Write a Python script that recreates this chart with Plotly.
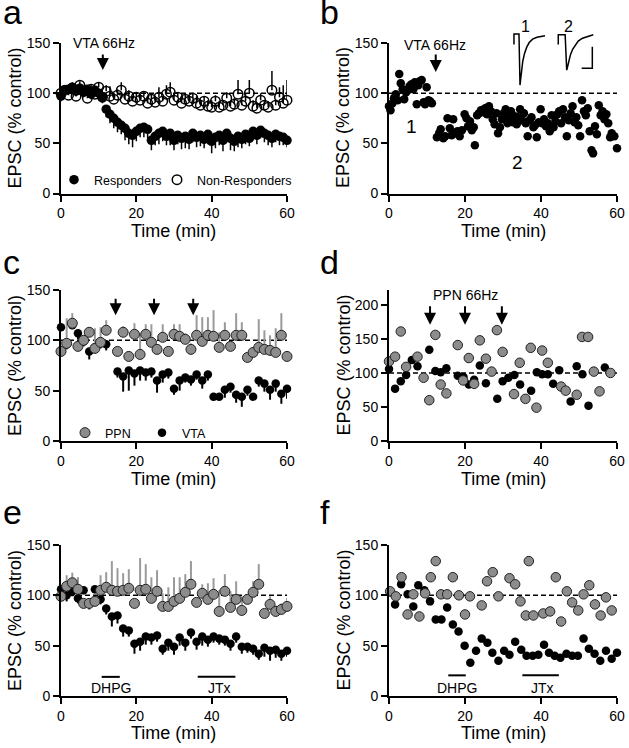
import plotly.graph_objects as go

FONT = "Arial, 'Liberation Sans', Helvetica, sans-serif"
W, H = 629, 748
GRAY = '#8c8c8c'
GRAY_ERR = '#9a9a9a'

# ---------------- Panel a ----------------
A_TIME = list(range(0, 61))
A_RESP = [97, 103, 104, 106, 102, 105, 101, 104, 99, 103, 100, 96,
          84, 79, 75, 71, 68, 65, 60, 58, 62, 65,
          66, 64, 53, 57, 60, 62, 57, 60, 53, 58,
          55, 57, 54, 60, 56, 58, 54, 59, 52, 56,
          58, 53, 60, 55, 52, 57, 54, 59, 55, 62,
          58, 63, 60, 58, 55, 59, 57, 56, 53]
A_RESP_ERR = [5, 6, 5, 6, 5, 6, 5, 6, 5, 6, 5, 6,
              8, 9, 10, 10, 9, 12, 11, 12, 10, 9,
              10, 9, 10, 9, 11, 10, 9, 12, 10, 9,
              11, 12, 10, 9, 10, 11, 9, 10, 12, 11,
              10, 11, 9, 12, 10, 11, 9, 10, 8, 9,
              9, 8, 9, 10, 9, 8, 9, 8, 7]
A_NONRESP = [100, 103, 98, 105, 97, 108, 102, 95, 104, 99, 106, 96,
             102, 97, 94, 98, 103, 94, 97, 92, 96, 93,
             97, 90, 94, 91, 96, 92, 99, 101, 93, 96,
             90, 94, 92, 95, 90, 88, 92, 87, 86, 92,
             86, 88, 95, 87, 89, 99, 88, 92, 100, 87,
             85, 93, 88, 86, 103, 88, 96, 90, 93]
A_NONRESP_ERR = [4, 5, 4, 6, 5, 4, 5, 6, 5, 4, 5, 4,
                 6, 10, 5, 6, 8, 5, 6, 5, 4, 6,
                 5, 6, 5, 6, 10, 5, 9, 10, 6, 5,
                 6, 5, 6, 5, 7, 6, 5, 6, 7, 6,
                 6, 5, 6, 5, 6, 14, 6, 7, 13, 6,
                 6, 7, 5, 6, 19, 6, 10, 18, 20]

# ---------------- Panel b ----------------
B_TIME = [0.0, 0.4, 0.9, 1.3, 1.8, 2.3, 2.7, 3.1, 3.6, 4.0, 4.5, 4.9, 5.4, 5.9, 6.4, 6.8,
          7.3, 7.7, 8.1, 8.6, 9.1, 9.5, 9.9, 10.4, 10.8, 11.3,
          12.6, 13.2, 13.6, 14.3, 14.8, 15.4, 16.0, 16.5, 16.9, 17.4, 18.0, 18.6, 19.2, 19.9,
          20.4, 20.8, 21.3, 21.8, 22.3, 22.6, 23.2, 23.7, 24.2, 24.8, 25.3, 25.8, 26.3, 26.8,
          27.3, 27.8, 28.3, 28.7, 29.2, 29.7, 30.2, 30.7, 31.2, 31.6, 32.1, 32.6, 33.1, 33.6,
          34.0, 34.5, 35.0, 35.5, 36.0, 36.5, 37.0, 37.5, 38.0, 38.4, 38.9, 39.4, 39.9, 40.3,
          40.8, 41.3, 41.8, 42.3, 42.8, 43.3, 43.8, 44.3, 44.8, 45.3, 45.8, 46.3, 46.8, 47.3,
          47.8, 48.3, 48.8, 49.3, 49.8, 50.3, 50.8, 51.3, 51.8, 52.3, 52.8, 53.3, 53.7, 54.2,
          54.7, 55.2, 55.7, 56.2, 56.7, 57.2, 57.7, 58.2, 58.6, 59.3, 60.0]
B_EPSC = [87, 83, 90, 95, 99, 93, 119, 110, 104, 94, 101, 103, 107, 109, 104, 111,
          89, 108, 112, 113, 91, 89, 106, 93, 92, 90,
          56, 60, 64, 55, 57, 75, 65, 58, 74, 60, 62, 57, 63, 79,
          75, 67, 72, 63, 66, 48, 78, 80, 83, 81, 85, 79, 87, 82,
          74, 69, 80, 60, 66, 74, 80, 84, 70, 76, 82, 71, 77, 69,
          76, 84, 73, 80, 70, 57, 73, 76, 66, 68, 56, 71, 84, 70,
          74, 67, 70, 62, 78, 66, 72, 79, 82, 70, 84, 76, 57, 73,
          80, 87, 71, 76, 68, 57, 93, 82, 78, 85, 62, 43, 40, 67,
          59, 88, 78, 82, 74, 79, 70, 56, 60, 57, 45]

# inset EPSC traces (panel b)
INSET1_X = [2.3, 2.3, 8.1, 8.7, 9.3, 10.0, 11.0, 12.5, 14.5, 17, 20, 24, 29, 34, 38.4]
INSET1_Y = [-0.2, 0.017, 0.017, -0.55, -1.04, -0.93, -0.74, -0.55, -0.39, -0.26, -0.16, -0.09, -0.05, -0.03, -0.02]
INSET2_X = [53.8, 53.8, 61.8, 62.6, 63.6, 64.6, 66.0, 68.0, 70.5, 73.5, 77, 82, 88, 94.5]
INSET2_Y = [-0.2, 0.0, 0.0, -0.4, -0.73, -0.66, -0.53, -0.41, -0.3, -0.21, -0.13, -0.07, -0.03, 0.0]
SCALE_X = [81.0, 93.4, 93.4]
SCALE_Y = [-0.693, -0.693, -0.245]

# ---------------- Panel c ----------------
C_PPN_TIME = [0, 1.5, 3, 4.5, 6, 7.5, 9, 10.5, 12,
              15, 16.5, 18, 19.5, 21, 22.5, 24, 25.5, 27, 28.5, 30, 31.5, 33, 34.5, 36, 37.5,
              39, 40.5, 42, 43.5, 45, 46.5, 48, 49.5, 51, 52.5, 54, 55.5, 57, 58.5, 60]
C_PPN = [89, 97, 117, 94, 100, 108, 92, 98, 110,
         89, 108, 84, 106, 86, 106, 98, 91, 103, 89,
         106, 104, 101, 91, 105, 99, 105, 104, 93, 105,
         94, 105, 105, 83, 88, 93, 91, 90, 88, 105, 84]
C_PPN_ERR = [0, 25, 10, 5, 4, 5, 20, 15, 10,
             5, 6, 5, 11, 21, 10, 18, 5, 13, 5,
             10, 12, 6, 6, 20, 24, 18, 26, 15, 13,
             5, 22, 13, 0, 4, 28, 19, 15, 24, 22, 0]
C_VTA_TIME = [0, 1.5, 3, 4.5, 6, 7.5, 9, 10.5, 12,
              15, 16.5, 18, 19.5, 21, 22.5, 24, 25.5, 27, 28.5, 30, 31.5, 33, 34.5, 36, 37.5,
              39, 40.5, 42, 43.5, 45, 46.5, 48, 49.5, 51, 52.5, 54, 55.5, 57, 58.5, 60]
C_VTA = [113, 96, 115, 107, 99, 89, 93, 97, 96,
         69, 64, 70, 67, 70, 68, 69, 60, 66, 68,
         52, 60, 63, 61, 66, 60, 66, 44, 44, 51,
         54, 46, 44, 51, 44, 60, 57, 51, 57, 47, 52]
C_VTA_ERR = [0, 5, 0, 6, 5, 8, 6, 5, 6,
             6, 15, 20, 12, 10, 8, 6, 12, 8, 6,
             6, 10, 5, 6, 5, 8, 6, 0, 0, 8,
             6, 8, 10, 6, 0, 6, 8, 10, 8, 10, 10]

# ---------------- Panel d ----------------
D_PPN_TIME = [0, 1.6, 3.1, 4.5, 7.5, 9.1, 10.6, 12.2, 13.6, 15.1, 18.1, 19.5, 21.0, 22.4,
              23.9, 25.5, 27.0, 28.4, 29.9, 32.9, 34.4, 35.9, 37.3, 38.8, 40.3, 41.8,
              45.3, 46.5, 49.4, 50.8, 52.4, 53.9, 55.4, 58.3]
D_PPN = [117, 124, 161, 109, 124, 93, 60, 156, 83, 70, 141, 89, 122, 84,
         148, 121, 102, 163, 131, 69, 115, 62, 137, 49, 133, 115,
         80, 74, 68, 153, 153, 102, 73, 100]
D_VTA_TIME = [0, 1.6, 3.1, 4.5, 6.0, 7.5, 10.6, 12.2, 13.6, 15.1, 18.1, 19.6, 21.0, 22.4,
              23.9, 25.5, 28.5, 29.9, 31.4, 33.0, 34.5, 37.4, 38.9, 40.3, 41.8, 43.2,
              44.8, 47.8, 49.4, 50.9, 52.5, 56.8, 60.1]
D_VTA = [106, 77, 88, 97, 119, 110, 134, 103, 101, 107, 96, 94, 83, 90,
         111, 85, 62, 88, 93, 97, 83, 74, 101, 98, 98, 84,
         104, 58, 110, 98, 52, 108, 76]

# ---------------- Panel e ----------------
E_TIME = [0, 1.5, 3, 4.5, 6, 7.5, 9, 10.5, 12, 13.5, 15, 16.5, 18, 19.5, 21, 22.5, 24, 25.5,
          27, 28.5, 30, 31.5, 33, 34.5, 36, 37.5, 39, 40.5, 42, 43.5, 45, 46.5, 48, 49.5,
          51, 52.5, 54, 55.5, 57, 58.5, 60]
E_GRAY = [99, 109, 112.5, 106, 92, 92, 94, 105, 108, 105,
          104, 105, 107, 92, 105, 106, 97, 104, 89, 89,
          94, 97, 103, 111, 93, 102, 96, 101, 84, 104,
          88, 96, 85, 96, 103, 111, 82, 91, 84, 86, 89]
E_GRAY_ERR = [0, 11, 10, 12, 0, 5, 5, 15, 15, 29,
              23, 17, 19, 0, 32, 25, 21, 21, 13, 19,
              24, 21, 18, 23, 0, 9, 16, 16, 21, 17,
              16, 18, 14, 4, 11, 20, 0, 8, 6, 6, 8]
E_BLACK = [106, 100, 104, 97, 105, 93, 106, 96, 87, 79,
           80, 67, 65, 52, 54, 59, 58, 60, 47, 53,
           49, 58, 53, 63, 54, 59, 56, 59, 57, 56,
           52, 59, 49, 49, 47, 42, 48, 45, 46, 42, 45]
E_BLACK_ERR = [0, 6, 5, 5, 4, 7, 4, 5, 6, 10,
               8, 8, 6, 10, 9, 8, 7, 6, 6, 8,
               8, 8, 8, 6, 8, 9, 7, 6, 6, 6,
               7, 6, 7, 6, 6, 6, 9, 10, 8, 7, 6]

# ---------------- Panel f ----------------
F_GRAY_TIME = [0.3, 1.8, 3.3, 4.9, 6.4, 8.0, 9.5, 11.0, 12.3, 13.7, 15.3, 16.8, 18.4, 20.0,
               21.3, 24.4, 25.8, 27.3, 28.8, 31.7, 33.2, 34.6, 36.0, 36.8, 38.0, 40.6, 42.4,
               43.9, 45.3, 46.8, 48.2, 49.8, 51.2, 52.7, 54.2, 55.7, 57.1, 58.6, 60.2]
F_GRAY = [104, 99, 118, 81, 101, 79, 102, 118, 134, 101, 101, 118, 100, 81,
          99, 90, 114, 123, 99, 117, 111, 94, 80, 134, 80, 82, 84,
          118, 74, 104, 93, 85, 101, 110, 91, 80, 98, 85, 110]
F_BLACK_TIME = [0.3, 1.6, 3.2, 4.9, 6.4, 7.7, 9.3, 10.8, 12.3, 13.8, 15.3, 16.8, 18.3, 19.9,
                21.4, 22.9, 24.4, 25.9, 27.2, 28.8, 30.3, 31.7, 33.2, 34.8, 36.2, 37.8, 39.3,
                40.8, 42.1, 43.6, 45.1, 46.7, 48.2, 49.7, 51.2, 52.6, 54.1, 55.6, 57.1, 58.6, 60.0]
F_BLACK = [103, 91, 111, 101, 89, 110, 105, 94, 76, 76, 88, 71, 64, 50,
           33, 45, 57, 53, 43, 35, 45, 41, 54, 46, 40, 40, 41,
           51, 43, 40, 38, 42, 40, 40, 57, 47, 42, 35, 45, 37, 43]

X_TICKS = [0, 20, 40, 60]
Y_TICKS = [0, 50, 100, 150]
Y_TICKS_D = [0, 50, 100, 150, 200]


def px2p(px):
    return px / W


def py2p(py):
    return (H - py) / H


LX = [px2p(61), px2p(287)]
RX = [px2p(389), px2p(617)]
R1 = [py2p(193.5), py2p(43)]
R2 = [py2p(441), py2p(290)]
R3 = [py2p(696), py2p(545)]

fig = go.Figure()


def err_down(vals, color='black', thick=1.5):
    return dict(type='data', symmetric=False, array=[0] * len(vals), arrayminus=vals,
                color=color, thickness=thick, width=0)


def err_up(vals, color='black', thick=1.5):
    return dict(type='data', symmetric=False, array=vals, arrayminus=[0] * len(vals),
                color=color, thickness=thick, width=0)


# panel a
fig.add_trace(go.Scatter(x=A_TIME, y=A_RESP, mode='markers', name='Responders',
                         marker=dict(symbol='circle', size=9.5, color='black'),
                         error_y=err_down(A_RESP_ERR), xaxis='x', yaxis='y',
                         legend='legend', cliponaxis=False))
fig.add_trace(go.Scatter(x=A_TIME, y=A_NONRESP, mode='markers', name='Non-Responders',
                         marker=dict(symbol='circle-open', size=9.5, color='black',
                                     line=dict(width=1.5, color='black')),
                         error_y=err_up(A_NONRESP_ERR), xaxis='x', yaxis='y',
                         legend='legend3', cliponaxis=False))
# panel b
fig.add_trace(go.Scatter(x=B_TIME, y=B_EPSC, mode='markers', showlegend=False,
                         marker=dict(size=8.5, color='black'), xaxis='x2', yaxis='y2',
                         cliponaxis=False))
# insets
for xs, ys in [(INSET1_X, INSET1_Y), (INSET2_X, INSET2_Y), (SCALE_X, SCALE_Y)]:
    fig.add_trace(go.Scatter(x=xs, y=ys, mode='lines', showlegend=False,
                             line=dict(color='black', width=1.5), xaxis='x7', yaxis='y7',
                             cliponaxis=False, hoverinfo='skip'))
# panel c
fig.add_trace(go.Scatter(x=C_VTA_TIME, y=C_VTA, mode='markers', name='VTA',
                         marker=dict(size=8.5, color='black'),
                         error_y=err_down(C_VTA_ERR, thick=2), xaxis='x3', yaxis='y3',
                         legend='legend4', cliponaxis=False))
fig.add_trace(go.Scatter(x=C_PPN_TIME, y=C_PPN, mode='markers', name='PPN',
                         marker=dict(size=10, color=GRAY, line=dict(width=1, color='#222')),
                         error_y=err_up(C_PPN_ERR, color=GRAY_ERR, thick=2), xaxis='x3', yaxis='y3',
                         legend='legend2', cliponaxis=False))
# panel d
fig.add_trace(go.Scatter(x=D_VTA_TIME, y=D_VTA, mode='markers', showlegend=False,
                         marker=dict(size=8.5, color='black'), xaxis='x4', yaxis='y4',
                         cliponaxis=False))
fig.add_trace(go.Scatter(x=D_PPN_TIME, y=D_PPN, mode='markers', showlegend=False,
                         marker=dict(size=9.5, color=GRAY, line=dict(width=1, color='#222')),
                         xaxis='x4', yaxis='y4', cliponaxis=False))
# panel e
fig.add_trace(go.Scatter(x=E_TIME, y=E_BLACK, mode='markers', showlegend=False,
                         marker=dict(size=8.5, color='black'),
                         error_y=err_down(E_BLACK_ERR, thick=2), xaxis='x5', yaxis='y5',
                         cliponaxis=False))
fig.add_trace(go.Scatter(x=E_TIME, y=E_GRAY, mode='markers', showlegend=False,
                         marker=dict(size=10, color=GRAY, line=dict(width=1, color='#222')),
                         error_y=err_up(E_GRAY_ERR, color=GRAY_ERR, thick=2), xaxis='x5', yaxis='y5',
                         cliponaxis=False))
# panel f
fig.add_trace(go.Scatter(x=F_BLACK_TIME, y=F_BLACK, mode='markers', showlegend=False,
                         marker=dict(size=8.5, color='black'), xaxis='x6', yaxis='y6',
                         cliponaxis=False))
fig.add_trace(go.Scatter(x=F_GRAY_TIME, y=F_GRAY, mode='markers', showlegend=False,
                         marker=dict(size=9.5, color=GRAY, line=dict(width=1, color='#222')),
                         xaxis='x6', yaxis='y6', cliponaxis=False))


def xax(domain, anchor):
    return dict(domain=domain, anchor=anchor, range=[0, 60], tickvals=X_TICKS,
                showline=True, linecolor='black', linewidth=2, ticks='outside', ticklen=6,
                tickwidth=2, tickcolor='black', showgrid=False, zeroline=False,
                automargin=False,
                tickfont=dict(size=14, family=FONT, color='black'), fixedrange=True)


def yax(domain, anchor, rng, ticks):
    return dict(domain=domain, anchor=anchor, range=rng, tickvals=ticks,
                showline=True, linecolor='black', linewidth=2, ticks='outside', ticklen=6,
                tickwidth=2, tickcolor='black', showgrid=False, zeroline=False,
                automargin=False,
                tickfont=dict(size=14, family=FONT, color='black'), fixedrange=True)


def leg(px, py):
    return dict(x=px2p(px), y=py2p(py), xanchor='left', yanchor='middle', orientation='h',
                font=dict(size=12.5, family=FONT, color='black'), bgcolor='rgba(0,0,0,0)',
                tracegroupgap=0)


# inset axis: 48.33 px per unit vertically, 0.86 px per unit horizontally
INSET_TOP = 0.1 + 12 * 1.2 / 58

layout = dict(
    template='none',
    width=W, height=H, autosize=False,
    margin=dict(l=0, r=0, t=0, b=0, pad=0),
    paper_bgcolor='white', plot_bgcolor='white',
    font=dict(family=FONT, color='black'),
    xaxis=xax(LX, 'y'), yaxis=yax(R1, 'x', [0, 150], Y_TICKS),
    xaxis2=xax(RX, 'y2'), yaxis2=yax(R1, 'x2', [0, 150], Y_TICKS),
    xaxis3=xax(LX, 'y3'), yaxis3=yax(R2, 'x3', [0, 150], Y_TICKS),
    xaxis4=xax(RX, 'y4'), yaxis4=yax(R2, 'x4', [0, 222], Y_TICKS_D),
    xaxis5=xax(LX, 'y5'), yaxis5=yax(R3, 'x5', [0, 150], Y_TICKS),
    xaxis6=xax(RX, 'y6'), yaxis6=yax(R3, 'x6', [0, 150], Y_TICKS),
    xaxis7=dict(domain=[px2p(512), px2p(598)], anchor='y7', range=[0, 100], visible=False,
                fixedrange=True),
    yaxis7=dict(domain=[py2p(88), py2p(18)], anchor='x7', range=[-1.1, INSET_TOP],
                visible=False, fixedrange=True),
    legend=leg(54, 180),
    legend3=leg(157, 180),
    legend2=leg(65, 433),
    legend4=leg(142, 433),
)
fig.update_layout(**layout)

shapes = []
for xr, yr in [('x', 'y'), ('x2', 'y2'), ('x3', 'y3'), ('x4', 'y4'), ('x5', 'y5'), ('x6', 'y6')]:
    shapes.append(dict(type='line', xref=xr, yref=yr, x0=0, x1=60, y0=100, y1=100,
                       line=dict(color='black', width=1.5, dash='5px,3px'), layer='below'))
# drug application bars
for xr, yr, x0, x1, yv in [('x5', 'y5', 10.8, 15.6, 19), ('x5', 'y5', 36.3, 46.3, 19),
                           ('x6', 'y6', 15.6, 20.2, 20.5), ('x6', 'y6', 35.1, 44.7, 20.5)]:
    shapes.append(dict(type='line', xref=xr, yref=yr, x0=x0, x1=x1, y0=yv, y1=yv,
                       line=dict(color='black', width=2)))
fig.update_layout(shapes=shapes)

ann = []
# panel letters
for txt, px, py in [('a', 1, 12), ('b', 318, 12), ('c', 1, 262), ('d', 318, 262),
                    ('e', 1, 512), ('f', 318, 512)]:
    ann.append(dict(text=txt, x=px2p(px), y=py2p(py), xref='paper', yref='paper',
                    xanchor='left', yanchor='middle', showarrow=False,
                    font=dict(size=34, family=FONT, color='black')))
# axis titles
for pxc, pyc in [(14.5, 118), (343, 118), (14.5, 365.5), (343, 365.5), (14.5, 620.5), (343, 620.5)]:
    ann.append(dict(text='EPSC (% control)', x=px2p(pxc), y=py2p(pyc), xref='paper', yref='paper',
                    xanchor='center', yanchor='middle', textangle=-90, showarrow=False,
                    font=dict(size=18, family=FONT, color='black')))
for pxc, pyc in [(174, 231), (503, 231), (174, 479), (503, 479), (174, 733), (503, 733)]:
    ann.append(dict(text='Time (min)', x=px2p(pxc), y=py2p(pyc), xref='paper', yref='paper',
                    xanchor='center', yanchor='middle', showarrow=False,
                    font=dict(size=18, family=FONT, color='black')))


def arrow(xr, yr, x, y, length):
    return dict(text='', x=x, y=y, xref=xr, yref=yr, ax=0, ay=-length, showarrow=True,
                arrowhead=2, arrowsize=1.2, arrowwidth=2, arrowcolor='black')


ann.append(arrow('x', 'y', 11.1, 123, 17))
ann.append(arrow('x2', 'y2', 12.3, 121, 19))
for t in [14.5, 24.7, 35.1]:
    ann.append(arrow('x3', 'y3', t, 125, 18))
for t in [10.8, 20.0, 29.7]:
    ann.append(arrow('x4', 'y4', t, 171, 20))


def label(xr, yr, x, y, txt, size=14):
    return dict(text=txt, x=x, y=y, xref=xr, yref=yr, xanchor='center', yanchor='middle',
                showarrow=False, font=dict(size=size, family=FONT, color='black'))


ann.append(label('x', 'y', 11.4, 150, 'VTA 66Hz'))
ann.append(label('x2', 'y2', 12.1, 148, 'VTA 66Hz'))
ann.append(label('x3', 'y3', 14.3, 153, 'VTA'))
ann.append(label('x3', 'y3', 24.5, 153, 'PPN'))
ann.append(label('x3', 'y3', 35.1, 153, 'PPN'))
ann.append(label('x4', 'y4', 20.0, 215, 'PPN 66Hz'))
ann.append(label('x2', 'y2', 6.05, 66.5, '1', size=19))
ann.append(label('x2', 'y2', 33.9, 30.8, '2', size=19))
ann.append(label('x7', 'y7', 15.5, 0.18, '1', size=16))
ann.append(label('x7', 'y7', 65.6, 0.18, '2', size=16))
ann.append(label('x5', 'y5', 13.2, 8, 'DHPG'))
ann.append(label('x5', 'y5', 42.0, 8, 'JTx'))
ann.append(label('x6', 'y6', 17.9, 8, 'DHPG'))
ann.append(label('x6', 'y6', 40.5, 8, 'JTx'))
fig.update_layout(annotations=ann)

fig.write_html(
    "out.html",
    config={'displayModeBar': False, 'responsive': False},
    post_script=("document.documentElement.style.margin='0px';"
                 "document.documentElement.style.overflow='hidden';"
                 "document.body.style.margin='0px';document.body.style.padding='0px';"
                 "document.body.style.overflow='hidden';"),
)
